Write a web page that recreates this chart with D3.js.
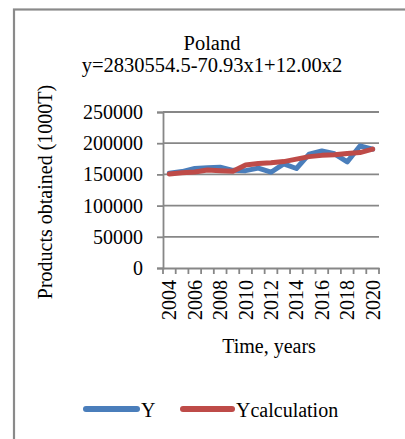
<!DOCTYPE html>
<html>
<head>
<meta charset="utf-8">
<script src="https://cdnjs.cloudflare.com/ajax/libs/d3/7.8.5/d3.min.js"></script>
<style>
html,body{margin:0;padding:0;background:#fff;}
svg{display:block;}
text{font-family:"Liberation Serif","Times New Roman",serif;fill:#000;}
</style>
</head>
<body>
<svg id="chart" width="405" height="439"></svg>
<script>
const years = [2004,2005,2006,2007,2008,2009,2010,2011,2012,2013,2014,2015,2016,2017,2018,2019,2020];
const seriesY = [152000,154500,159500,160500,161500,156500,156000,160000,153500,167000,159500,182500,187500,183000,170000,195500,190500];
const seriesYcalc = [150500,152500,154000,157000,156000,155000,165000,167500,168500,170500,174500,178500,180500,181500,183500,185000,190500];
const yTicks = [0,50000,100000,150000,200000,250000];
const xTickLabels = [2004,2006,2008,2010,2012,2014,2016,2018,2020];
const titleLines = ["Poland","y=2830554.5-70.93x1+12.00x2"];
const yLabel = "Products obtained (1000T)";
const xLabel = "Time, years";
const legendNames = ["Y","Ycalculation"];
const colors = ["#4a7ebb","#be4b48"];

const svg = d3.select("#chart");
const gridColor = "#878787";

// outer frame
svg.append("rect").attr("x",14).attr("y",9.5).attr("width",420).attr("height",460)
  .attr("fill","none").attr("stroke","#8a8a8a").attr("stroke-width",2.2);

const x = d3.scaleBand().domain(years).range([163,379]).padding(0);
const y = d3.scaleLinear().domain([0,250000]).range([268,112]);

// gridlines
svg.append("g").selectAll("line").data(yTicks.slice(1)).join("line")
  .attr("x1",163).attr("x2",379).attr("y1",d=>y(d)).attr("y2",d=>y(d))
  .attr("stroke",gridColor).attr("stroke-width",1.8);

// y axis
const yAxis = svg.append("g").attr("transform","translate(163,0)")
  .call(d3.axisLeft(y).tickValues(yTicks).tickSize(6).tickPadding(14).tickFormat(d3.format("d")));
yAxis.select(".domain").attr("stroke",gridColor).attr("stroke-width",1.8);
yAxis.selectAll(".tick line").attr("stroke",gridColor).attr("stroke-width",1.8);
yAxis.selectAll(".tick text").attr("font-size",20).attr("font-family","Liberation Serif").attr("fill","#000");

// x axis
const xAxis = svg.append("g").attr("transform","translate(0,268)")
  .call(d3.axisBottom(x).tickValues(xTickLabels).tickSize(0).tickPadding(0).tickSizeOuter(0).tickFormat(d=>String(d)));
xAxis.select(".domain").attr("stroke",gridColor).attr("stroke-width",1.8);
xAxis.selectAll(".tick text")
  .attr("font-size",20).attr("font-family","Liberation Serif").attr("fill","#000")
  .attr("transform","translate(0,12) rotate(-90)")
  .attr("text-anchor","end").attr("dy","0.35em").attr("y",0).attr("x",0);
// boundary ticks
const bounds = years.map(d=>x(d)).concat([x.range()[1]]);
xAxis.append("g").selectAll("line").data(bounds).join("line")
  .attr("x1",d=>d).attr("x2",d=>d).attr("y1",0).attr("y2",6)
  .attr("stroke",gridColor).attr("stroke-width",1.8);

// lines
const cx = d => x(d) + x.bandwidth()/2;
const line = d3.line().x(d=>cx(d[0])).y(d=>y(d[1]));
[seriesY, seriesYcalc].forEach((s,i)=>{
  svg.append("path").datum(years.map((yr,j)=>[yr,s[j]]))
    .attr("d",line).attr("fill","none").attr("stroke",colors[i])
    .attr("stroke-width",5).attr("stroke-linejoin","round").attr("stroke-linecap","round");
});

// titles
svg.append("g").selectAll("text").data(titleLines).join("text")
  .attr("x",212).attr("y",(d,i)=>50+i*22).attr("text-anchor","middle")
  .attr("font-size",20.5).text(d=>d);

// axis titles
svg.append("text").attr("transform","translate(52,192) rotate(-90)")
  .attr("text-anchor","middle").attr("font-size",20).text(yLabel);
svg.append("text").attr("x",269).attr("y",353).attr("text-anchor","middle")
  .attr("font-size",20).text(xLabel);

// legend
const legendX = [[86,137],[183,232]];
const legend = svg.append("g");
legendNames.forEach((n,i)=>{
  legend.append("line").attr("x1",legendX[i][0]).attr("x2",legendX[i][1])
    .attr("y1",409).attr("y2",409).attr("stroke",colors[i]).attr("stroke-width",6)
    .attr("stroke-linecap","round");
  legend.append("text").attr("x",legendX[i][1]+4).attr("y",416.5)
    .attr("font-size",20).text(n);
});
</script>
</body>
</html>
